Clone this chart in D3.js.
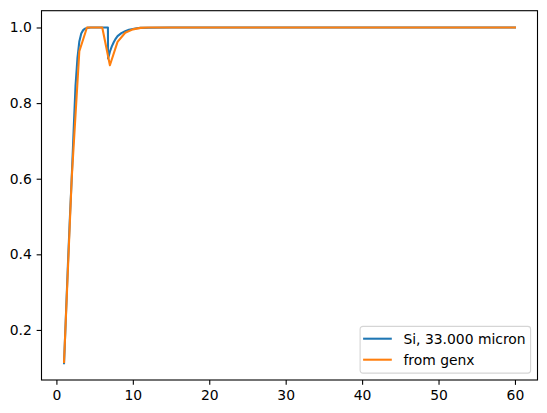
<!DOCTYPE html>
<html>
<head>
<meta charset="utf-8">
<script src="https://cdn.jsdelivr.net/npm/d3@7"></script>
<style>
  html, body { margin: 0; padding: 0; background: #fff; }
  svg { display: block; font-family: 'DejaVu Sans', sans-serif; }
</style>
</head>
<body>
<svg id="chart" width="547" height="413"></svg>
<script>
// blue curve (dense)
var blueX = [1, 1.25, 1.5, 1.75, 2, 2.25, 2.5, 2.75, 3, 3.25, 3.5, 3.75, 4, 4.5, 5, 6, 6.74, 6.76, 6.9, 7, 7.25, 7.5, 7.75, 8, 8.5, 9, 9.5, 10, 10.5, 11, 12, 15, 20, 30, 40, 50, 60];
var blueY = [0.112, 0.24, 0.37, 0.49, 0.60, 0.725, 0.845, 0.918, 0.963, 0.984, 0.993, 0.997, 0.999, 1.0, 1.0, 1.0, 1.0, 0.918, 0.928, 0.936, 0.950, 0.961, 0.970, 0.977, 0.985, 0.990, 0.994, 0.996, 0.998, 0.999, 0.9995, 1.0, 1.0, 1.0, 1.0, 1.0, 1.0];

// orange curve (integer grid)
var orangeX = d3.range(1, 61);
var orangeY = [0.115, 0.60, 0.937, 1.0, 1.0, 1.0, 0.900, 0.962, 0.986, 0.995, 0.999].concat(d3.range(12, 61).map(function() { return 1.0; }));

var seriesNames = ['Si, 33.000 micron', 'from genx'];
var seriesColors = ['#1f77b4', '#ff7f0e'];
var xTicks = [0, 10, 20, 30, 40, 50, 60];
var yTicks = [0.2, 0.4, 0.6, 0.8, 1.0];

var svg = d3.select('#chart'),
  margin = { left: 41.5, top: 10.7, width: 496, height: 369.3 };

var series = [
  blueX.map(function(x, i) { return [x, blueY[i]]; }),
  orangeX.map(function(x, i) { return [x, orangeY[i]]; })
];

function padded(ext) {
  var p = (ext[1] - ext[0]) * 0.05;
  return [ext[0] - p, ext[1] + p];
}

var allX = blueX.concat(orangeX),
  allY = blueY.concat(orangeY);

var xScale = d3.scaleLinear()
  .domain(padded(d3.extent(allX)))
  .range([margin.left, margin.left + margin.width]);

var yScale = d3.scaleLinear()
  .domain(padded(d3.extent(allY)))
  .range([margin.top + margin.height, margin.top]);

var line = d3.line()
  .x(function(d) { return xScale(d[0]); })
  .y(function(d) { return yScale(d[1]); });

var plot = svg.append('svg:g');

series.forEach(function(s, i) {
  plot.append('svg:path')
    .attr('d', line(s))
    .attr('fill', 'none')
    .attr('stroke', seriesColors[i])
    .attr('stroke-width', 2.08)
    .attr('stroke-linejoin', 'round')
    .attr('stroke-linecap', 'square');
});

// axes
var xAxis = d3.axisBottom(xScale)
  .tickValues(xTicks)
  .tickSize(4.86)
  .tickPadding(4.86)
  .tickFormat(d3.format('d'));

var yAxis = d3.axisLeft(yScale)
  .tickValues(yTicks)
  .tickSize(4.86)
  .tickPadding(4.86)
  .tickFormat(d3.format('.1f'));

var gx = svg.append('svg:g')
  .attr('transform', 'translate(0,' + (margin.top + margin.height) + ')')
  .call(xAxis);

var gy = svg.append('svg:g')
  .attr('transform', 'translate(' + margin.left + ',0)')
  .call(yAxis);

[gx, gy].forEach(function(g) {
  g.select('.domain').remove();
  g.selectAll('.tick line').attr('stroke', '#000').attr('stroke-width', 1.1);
  g.selectAll('.tick text')
    .attr('fill', '#000')
    .attr('font-size', '13.9px')
    .attr('font-family', 'DejaVu Sans, sans-serif');
});

// frame
svg.append('svg:rect')
  .attr('x', margin.left)
  .attr('y', margin.top)
  .attr('width', margin.width)
  .attr('height', margin.height)
  .attr('fill', 'none')
  .attr('stroke', '#000')
  .attr('stroke-width', 1.1);

// legend, lower right
var legW = 170.5,
  legH = 46.7,
  legX = margin.left + margin.width - 6.9 - legW,
  legY = margin.top + margin.height - 6.9 - legH;

var legend = svg.append('svg:g')
  .attr('transform', 'translate(' + legX + ',' + legY + ')');

legend.append('svg:rect')
  .attr('x', 0)
  .attr('y', 0)
  .attr('rx', 2.8)
  .attr('ry', 2.8)
  .attr('width', legW)
  .attr('height', legH)
  .attr('fill', '#fff')
  .attr('fill-opacity', 0.8)
  .attr('stroke', '#d5d5d5')
  .attr('stroke-width', 1.1);

seriesNames.forEach(function(name, i) {
  var cy = 12.3 + i * 21;
  legend.append('svg:line')
    .attr('x1', 3)
    .attr('x2', 31.7)
    .attr('y1', cy)
    .attr('y2', cy)
    .attr('stroke', seriesColors[i])
    .attr('stroke-width', 2.08);
  legend.append('svg:text')
    .attr('x', 43.3)
    .attr('y', cy)
    .attr('dy', '0.35em')
    .attr('font-size', '13.9px')
    .attr('fill', '#000')
    .text(name);
});
</script>
</body>
</html>
